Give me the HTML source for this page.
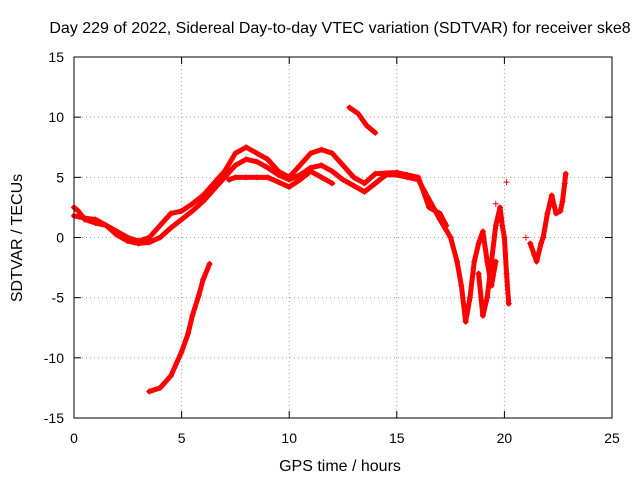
<!DOCTYPE html>
<html><head><meta charset="utf-8"><style>
body{margin:0;background:#fff}
svg text{font-family:"Liberation Sans",sans-serif;font-size:14px;fill:#000}
svg text.big{font-size:16px}
</style></head><body>
<svg id="chart" width="640" height="480">
<text class="big" x="340" y="33" text-anchor="middle">Day 229 of 2022, Sidereal Day-to-day VTEC variation (SDTVAR) for receiver ske8</text>
<text class="big" x="340" y="471" text-anchor="middle">GPS time / hours</text>
<text class="big" transform="translate(22,238) rotate(-90)" text-anchor="middle">SDTVAR / TECUs</text>
<g id="grid"></g><g id="ticks"></g><g id="marks"></g>
<rect x="74" y="57" width="538" height="361" fill="none" stroke="#000"/>
</svg>
<script>
const xTicks=[0,5,10,15,20,25];
const yTicks=[-15,-10,-5,0,5,10,15];
const trackMain=[[0,2.5],[0.2,2.2],[0.5,1.5],[1,1.2],[1.5,1],[2,0.2],[2.5,-0.3],[3,-0.5],[3.5,-0.4],[4,0],[4.5,0.8],[5,1.5],[5.5,2.2],[6,3],[6.5,4],[7,5],[7.5,6],[8,6.5],[8.5,6.3],[9,5.8],[9.5,5.2],[10,4.8],[10.5,5.2],[11,5.8],[11.5,6],[12,5.5],[12.5,4.8],[13,4.3],[13.5,3.8],[14,4.5],[14.5,5.2],[15,5.2],[15.5,5],[16,4.8],[16.3,3.8],[16.7,2.5],[17,1.5],[17.5,0],[17.8,-2],[18,-4],[18.2,-7],[18.4,-5],[18.6,-2],[18.8,-0.5],[19,0.5],[19.2,-2],[19.4,-4],[19.6,-2]];
const trackSecond=[[0,1.8],[0.5,1.6],[1,1.5],[1.5,1],[2,0.5],[2.5,0],[3,-0.3],[3.5,0],[4.5,2],[5,2.2],[5.5,2.8],[6,3.5],[6.5,4.5],[7,5.5],[7.5,7],[8,7.5],[8.5,7],[9,6.5],[9.5,5.5],[10,5],[10.5,6],[11,7],[11.5,7.3],[12,7],[12.5,6],[13,5],[13.5,4.5],[14,5.3],[15,5.4],[15.5,5.2],[16,5],[16.5,2.5],[17,2],[17.3,1]];
const trackBand3=[[7.2,4.8],[7.5,5],[8,5],[8.5,5],[9,5],[9.5,4.6],[10,4.2],[10.5,4.8],[11,5.5],[11.5,5],[12,4.5]];
const trackRise=[[3.5,-12.8],[4,-12.5],[4.5,-11.5],[5,-9.5],[5.3,-8],[5.5,-6.5],[5.8,-4.8],[6,-3.5],[6.3,-2.2]];
const trackTop=[[12.8,10.8],[13.2,10.3],[13.6,9.3],[14,8.7]];
const track20=[[18.8,-3],[19,-6.5],[19.2,-5],[19.4,-2],[19.6,1],[19.8,2.5],[19.9,1],[20,0],[20.1,-3],[20.2,-5.5]];
const trackRight=[[21.2,-0.5],[21.4,-1.5],[21.5,-2],[21.7,-0.5],[21.8,0],[22,2],[22.2,3.5],[22.4,2],[22.6,2.2],[22.7,3],[22.8,4.5],[22.85,5.3]];
const singles=[[20.1,4.6],[19.6,2.8],[21.0,0]];
const tracks=[trackMain,trackSecond,trackBand3,trackRise,trackTop,track20,trackRight];
const X=v=>74+v*538/25, Y=v=>418-(v+15)*361/30;
const ns="http://www.w3.org/2000/svg";
const grid=document.getElementById('grid'),ticks=document.getElementById('ticks'),marks=document.getElementById('marks');
function mk(tag,a,p){const e=document.createElementNS(ns,tag);for(const k in a)e.setAttribute(k,a[k]);p.appendChild(e);return e;}
xTicks.forEach(t=>{const x=X(t);
 if(t>0&&t<25){const g=mk('line',{x1:x,x2:x,y1:57,y2:418,stroke:'#a0a0a0','stroke-dasharray':'1,3'},grid);
 
 }
 mk('line',{x1:x,x2:x,y1:418,y2:411,stroke:'#000'},ticks);mk('line',{x1:x,x2:x,y1:57,y2:64,stroke:'#000'},ticks);
 const l=mk('text',{x:x,y:443,'text-anchor':'middle'},ticks);l.textContent=t;
 
 });
yTicks.forEach(t=>{const y=Y(t);
 if(t>-15&&t<15){const g=mk('line',{x1:74,x2:612,y1:y,y2:y,stroke:'#a0a0a0','stroke-dasharray':'1,3'},grid);
 
 }
 mk('line',{x1:74,x2:81,y1:y,y2:y,stroke:'#000'},ticks);mk('line',{x1:612,x2:605,y1:y,y2:y,stroke:'#000'},ticks);
 const l=mk('text',{x:64,y:y+5,'text-anchor':'end'},ticks);l.textContent=t;
 
 });
function plus(x,y){const p=mk('path',{d:`M${x-3},${y}h6M${x},${y-3}v6`,stroke:'#f00','stroke-width':1},marks);
 
 }
tracks.forEach(tr=>{
 const pl=mk('polyline',{points:tr.map(p=>X(p[0])+','+Y(p[1])).join(' '),fill:'none',stroke:'#f00','stroke-width':5,'stroke-linejoin':'round','stroke-linecap':'round'},marks);
 
 
 tr.forEach(p=>plus(X(p[0]),Y(p[1])));});
singles.forEach(p=>plus(X(p[0]),Y(p[1])));
</script>
</body></html>
